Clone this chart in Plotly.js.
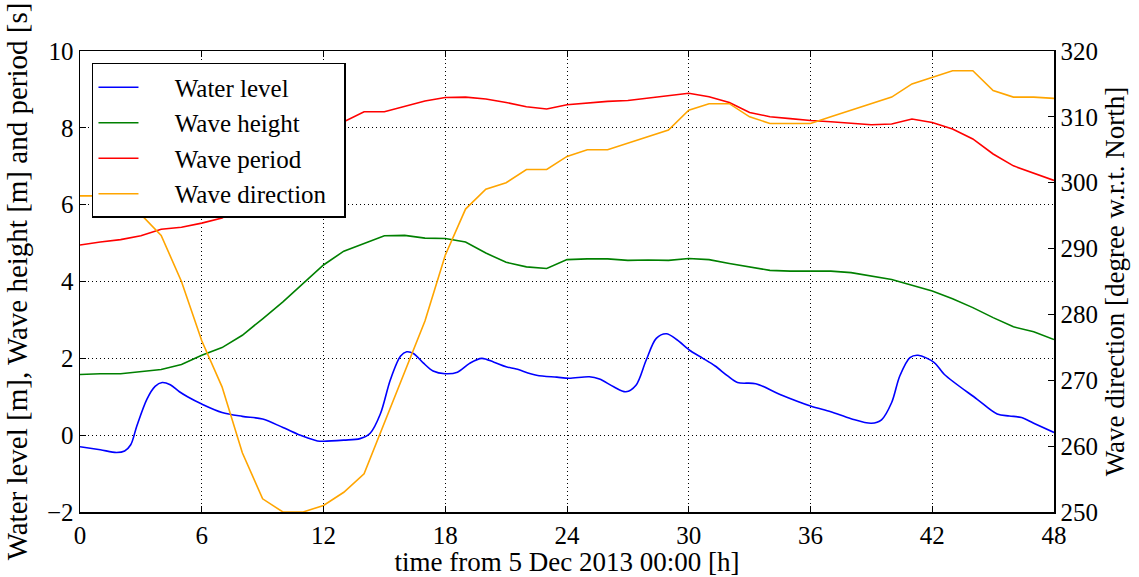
<!DOCTYPE html>
<html>
<head>
<meta charset="utf-8">
<script src="https://cdn.plot.ly/plotly-3.0.1.min.js"></script>
<style>
  html, body { margin: 0; padding: 0; background: #ffffff; }
  #chart { width: 1139px; height: 577px; }
</style>
</head>
<body>
<div id="chart"></div>
<script>
// ---- data ----
const hours = [0,1,2,3,4,5,6,7,8,9,10,11,12,13,14,15,16,17,18,19,20,21,22,23,24,
               25,26,27,28,29,30,31,32,33,34,35,36,37,38,39,40,41,42,43,44,45,46,47,48];

const waterLevelTime = [0,1,1.8,2.2,2.5,2.8,3.3,3.7,4.05,4.45,4.9,5.3,6,7,8,9,10,11,11.7,12,13,13.8,
  14.3,14.8,15.3,15.8,16.1,16.45,16.9,17.4,18,18.6,19.2,19.8,20.4,21,21.5,22.5,23.5,24.1,25.1,25.6,
  26.3,26.9,27.4,27.9,28.4,28.9,29.4,30.1,30.7,31.3,31.9,32.4,33.3,34.5,36,37,38,39,39.5,40,40.4,
  40.9,41.3,42.1,42.6,44.2,45.2,45.8,46.4,47,48];
const waterLevel = [-0.30,-0.38,-0.45,-0.41,-0.25,0.24,0.94,1.27,1.37,1.31,1.13,1.00,0.81,0.59,0.49,0.42,
  0.20,-0.03,-0.15,-0.16,-0.13,-0.09,0.05,0.55,1.45,2.06,2.17,2.12,1.89,1.67,1.60,1.64,1.87,2.00,1.90,
  1.78,1.72,1.56,1.51,1.48,1.52,1.46,1.26,1.13,1.30,1.95,2.52,2.64,2.49,2.19,2.00,1.80,1.55,1.37,1.34,
  1.06,0.76,0.61,0.43,0.31,0.40,0.85,1.54,2.02,2.08,1.89,1.58,0.94,0.55,0.50,0.46,0.31,0.07];

const waveHeight = [1.58,1.60,1.60,1.65,1.71,1.84,2.08,2.28,2.60,3.03,3.47,3.95,4.43,4.79,5.00,5.19,5.20,
  5.13,5.12,5.03,4.74,4.50,4.38,4.34,4.57,4.59,4.59,4.55,4.56,4.55,4.60,4.57,4.47,4.38,4.29,4.27,4.27,
  4.27,4.23,4.14,4.05,3.90,3.75,3.55,3.32,3.06,2.82,2.69,2.49];

const wavePeriod = [4.95,5.03,5.09,5.19,5.36,5.41,5.52,5.65,5.95,6.50,7.00,7.50,7.90,8.15,8.42,8.42,8.55,
  8.70,8.79,8.80,8.75,8.66,8.55,8.49,8.60,8.65,8.69,8.71,8.77,8.84,8.90,8.81,8.66,8.40,8.29,8.24,8.19,
  8.16,8.12,8.08,8.10,8.23,8.14,7.97,7.71,7.32,7.01,6.82,6.63];

const waveDirection = [298,298,297,295.2,292,285,276,269,259,252,250,250,251,253,255.8,263.5,271,279,289,
  296,299,300,302,302,304,305,305,306,307,308,311,312,312,310,309,309,309,310,311,312,313,315,316,317,
  317,314,313,313,312.8];

const xTicks = [0,6,12,18,24,30,36,42,48];
const yTicks = [-2,0,2,4,6,8,10];
const y2Ticks = [250,260,270,280,290,300,310,320];

const seriesNames = ['Water level','Wave height','Wave period','Wave direction'];
const seriesColors = ['#0000ff','#008000','#ff0000','#ffa500'];

// ---- chart ----
const FONT = 'Liberation Serif, Times New Roman, serif';
const LW = 1.6;
const PAD = '\u00a0\u00a0\u00a0\u00a0\u00a0';
const TAIL = '\u00a0\u00a0';

const traces = [
  {x: waterLevelTime, y: waterLevel, name: PAD + seriesNames[0] + TAIL, type: 'scatter', mode: 'lines',
   line: {color: seriesColors[0], width: LW, shape: 'spline', smoothing: 0.9}},
  {x: hours, y: waveHeight, name: PAD + seriesNames[1] + TAIL, type: 'scatter', mode: 'lines',
   line: {color: seriesColors[1], width: LW}},
  {x: hours, y: wavePeriod, name: PAD + seriesNames[2] + TAIL, type: 'scatter', mode: 'lines',
   line: {color: seriesColors[2], width: LW}},
  {x: hours, y: waveDirection, name: PAD + seriesNames[3] + TAIL, type: 'scatter', mode: 'lines', yaxis: 'y2',
   line: {color: seriesColors[3], width: LW}}
];

const layout = {
  width: 1139, height: 577,
  margin: {l: 80, r: 85, t: 51, b: 65, pad: 0},
  paper_bgcolor: '#ffffff', plot_bgcolor: '#ffffff',
  font: {family: FONT, size: 25, color: '#000000'},
  showlegend: true,
  legend: {
    x: 0.0123, y: 0.974, xanchor: 'left', yanchor: 'top',
    bgcolor: '#ffffff', bordercolor: '#000000', borderwidth: 1.5,
    font: {family: FONT, size: 25, color: '#000000'},
    itemwidth: 40, tracegroupgap: 0
  },
  xaxis: {
    range: [0, 48], tickmode: 'array', tickvals: xTicks, ticktext: xTicks.map(String),
    ticks: 'inside', ticklen: 6, tickwidth: 1, tickcolor: '#000',
    showline: true, linecolor: '#000', linewidth: 1.5, mirror: 'ticks',
    showgrid: true, gridcolor: '#000', gridwidth: 1, griddash: '1px,3px',
    zeroline: false, automargin: false,
    title: {text: 'time from 5 Dec 2013 00:00 [h]', standoff: 3, font: {family: FONT, size: 27}}
  },
  yaxis: {
    range: [-2, 10], tickmode: 'array', tickvals: yTicks, ticktext: yTicks.map(v => v < 0 ? '\u2212' + Math.abs(v) : String(v)),
    ticks: 'inside', ticklen: 6, tickwidth: 1, tickcolor: '#000',
    showline: true, linecolor: '#000', linewidth: 1.5, mirror: false,
    showgrid: true, gridcolor: '#000', gridwidth: 1, griddash: '1px,3px',
    zeroline: false, automargin: false,
    title: {text: 'Water level [m], Wave height [m] and period [s]', standoff: 10, font: {family: FONT, size: 29}}
  },
  yaxis2: {
    range: [250, 320], overlaying: 'y', side: 'right',
    tickmode: 'array', tickvals: y2Ticks, ticktext: y2Ticks.map(String),
    ticks: 'inside', ticklen: 6, tickwidth: 1, tickcolor: '#000',
    showline: true, linecolor: '#000', linewidth: 1.5,
    showgrid: false, zeroline: false, automargin: false,
    title: {text: 'Wave direction [degree w.r.t. North]', standoff: 8, font: {family: FONT, size: 27}}
  }
};

Plotly.newPlot('chart', traces, layout, {displayModeBar: false, staticPlot: true});
</script>
</body>
</html>
